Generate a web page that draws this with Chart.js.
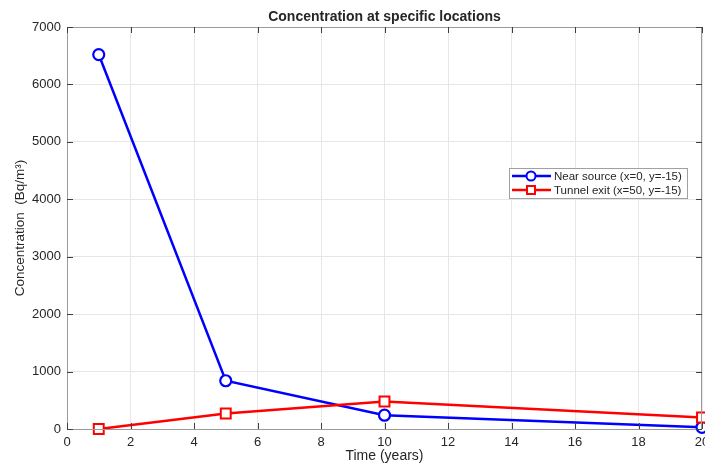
<!DOCTYPE html>
<html>
<head>
<meta charset="utf-8">
<script src="https://cdn.jsdelivr.net/npm/chart.js@4.4.1/dist/chart.umd.min.js"></script>
<style>
  html, body { margin: 0; padding: 0; background: #fff; overflow: hidden; }
  #wrap { width: 705px; height: 467px; }
</style>
</head>
<body>
<div id="wrap"><canvas id="concChart" width="705" height="467"></canvas></div>
<script>
// Chart data
const years = [1, 5, 10, 20];
const nearSource = [6520, 840, 240, 30];
const tunnelExit = [0, 270, 480, 200];
const xTicks = [0, 2, 4, 6, 8, 10, 12, 14, 16, 18, 20];
const yTicks = [0, 1000, 2000, 3000, 4000, 5000, 6000, 7000];
const seriesNames = ['Near source (x=0, y=-15)', 'Tunnel exit (x=50, y=-15)'];

const FONT = '"Liberation Sans", Arial, Helvetica, sans-serif';
const tickColor = '#262626';

// box, inward ticks and legend like matlab
const axesBox = {
    id: 'axesBox',
    afterLayout(chart) {
        // center the title over the plot area, not the canvas
        const t = chart.titleBlock;
        if (t) {
            t.left = chart.chartArea.left;
            t.right = chart.chartArea.right;
            t.width = t.right - t.left;
        }
    },
    afterDatasetsDraw(chart) {
        const { ctx, chartArea: a, scales } = chart;
        ctx.save();
        ctx.strokeStyle = '#9a9a9a';
        ctx.lineWidth = 1;
        ctx.strokeRect(a.left + 0.5, a.top + 0.5, a.right - a.left - 1, a.bottom - a.top);
        ctx.strokeStyle = '#404040';
        ctx.beginPath();
        xTicks.forEach(v => {
            const x = Math.round(scales.x.getPixelForValue(v)) + 0.5;
            ctx.moveTo(x, a.top); ctx.lineTo(x, a.top + 6);
            ctx.moveTo(x, a.bottom); ctx.lineTo(x, a.bottom - 6);
        });
        yTicks.forEach(v => {
            const y = Math.round(scales.y.getPixelForValue(v)) + 0.5;
            ctx.moveTo(a.left, y); ctx.lineTo(a.left + 6, y);
            ctx.moveTo(a.right, y); ctx.lineTo(a.right - 6, y);
        });
        ctx.stroke();

        // legend
        const lx = 509, ly = 168, lw = 178, lh = 30;
        ctx.fillStyle = '#fff';
        ctx.fillRect(lx, ly, lw, lh);
        ctx.strokeStyle = '#a0a0a0';
        ctx.strokeRect(lx + 0.5, ly + 0.5, lw, lh);
        chart.data.datasets.forEach((ds, i) => {
            const y = ly + 8 + i * 14;
            ctx.strokeStyle = ds.borderColor;
            ctx.lineWidth = 2.5;
            ctx.beginPath();
            ctx.moveTo(lx + 3, y); ctx.lineTo(lx + 42, y);
            ctx.stroke();
            ctx.lineWidth = 2;
            ctx.fillStyle = '#fff';
            ctx.beginPath();
            if (ds.pointStyle === 'circle') {
                ctx.arc(lx + 22, y, 4.5, 0, Math.PI * 2);
            } else {
                ctx.rect(lx + 18, y - 4, 8, 8);
            }
            ctx.fill();
            ctx.stroke();
            ctx.fillStyle = tickColor;
            ctx.font = '11.5px ' + FONT;
            ctx.textBaseline = 'middle';
            ctx.fillText(ds.label, lx + 45, y + 0.5);
        });
        ctx.restore();
    }
};

const ctx = document.getElementById('concChart').getContext('2d');
new Chart(ctx, {
    type: 'line',
    data: {
        datasets: [{
            label: seriesNames[0],
            data: years.map((x, i) => ({ x: x, y: nearSource[i] })),
            borderColor: '#0000ff',
            backgroundColor: '#ffffff',
            borderWidth: 2.5,
            pointStyle: 'circle',
            pointRadius: 5.5,
            pointBorderWidth: 2.2,
            pointBackgroundColor: '#ffffff',
            order: 1,
            clip: false
        }, {
            label: seriesNames[1],
            data: years.map((x, i) => ({ x: x, y: tunnelExit[i] })),
            borderColor: '#ff0000',
            backgroundColor: '#ffffff',
            borderWidth: 2.5,
            pointStyle: 'rect',
            pointRadius: 7,
            pointBorderWidth: 2,
            pointBackgroundColor: '#ffffff',
            order: 0,
            clip: false
        }]
    },
    options: {
        responsive: false,
        animation: false,
        layout: { autoPadding: false, padding: { left: 0, right: 3, top: 0, bottom: 0 } },
        plugins: {
            legend: { display: false },
            tooltip: { enabled: false },
            title: {
                display: true,
                text: 'Concentration at specific locations',
                color: tickColor,
                font: { family: FONT, size: 14, weight: 'bold', lineHeight: 1.2 },
                padding: { top: 9, bottom: 1.2 }
            }
        },
        scales: {
            x: {
                type: 'linear',
                min: 0,
                max: 20,
                afterBuildTicks: s => { s.ticks = xTicks.map(v => ({ value: v })); },
                afterFit: s => { s.height = 38; s.paddingLeft = 0; s.paddingRight = 0; },
                ticks: { color: tickColor, padding: 6, font: { family: FONT, size: 13 }, maxRotation: 0, callback: v => String(v) },
                grid: { color: '#e6e6e6', drawTicks: false },
                border: { display: false },
                title: {
                    display: true,
                    text: 'Time (years)',
                    color: tickColor,
                    font: { family: FONT, size: 14 },
                    padding: { top: 0, bottom: 2 }
                }
            },
            y: {
                min: 0,
                max: 7000,
                afterBuildTicks: s => { s.ticks = yTicks.map(v => ({ value: v })); },
                afterFit: s => { s.width = 67; s.paddingTop = 0; s.paddingBottom = 0; },
                ticks: { color: tickColor, padding: 6, font: { family: FONT, size: 13 }, callback: v => String(v) },
                grid: { color: '#e6e6e6', drawTicks: false },
                border: { display: false },
                title: {
                    display: true,
                    text: 'Concentration  (Bq/m³)',
                    color: tickColor,
                    font: { family: FONT, size: 13.5 },
                    padding: { top: 12.5, bottom: 0 }
                }
            }
        }
    },
    plugins: [axesBox]
});
</script>
</body>
</html>
